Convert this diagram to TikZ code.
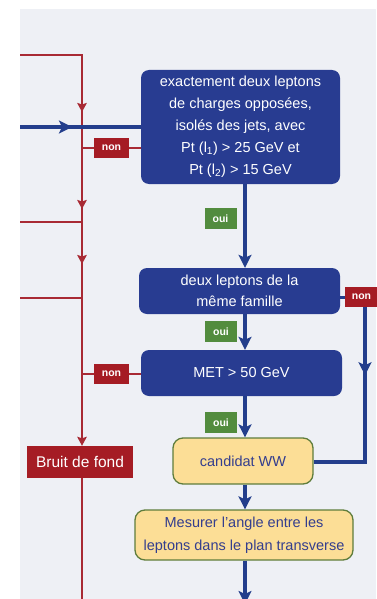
\documentclass[tikz,border=0pt]{standalone}
\usepackage{fontspec}
\setmainfont{Liberation Sans}
\usetikzlibrary{arrows.meta,decorations.markings}

\definecolor{bgpanel}{RGB}{238,240,245}
\definecolor{boxblue}{RGB}{40,60,145}
\definecolor{lineblue}{RGB}{35,62,140}
\definecolor{tagred}{RGB}{165,28,36}
\definecolor{linered}{RGB}{168,42,52}
\definecolor{taggreen}{RGB}{82,140,62}
\definecolor{candfill}{RGB}{252,222,150}
\definecolor{candedge}{RGB}{95,125,60}
\definecolor{candtext}{RGB}{52,62,142}

\pgfdeclarelayer{panel}
\pgfdeclarelayer{wires}
\pgfsetlayers{panel,wires,main}

\tikzset{
  bluebox/.style={fill=boxblue, rounded corners=8pt, text=white, align=center,
    inner sep=0pt, font=\fontsize{14.5}{22}\selectfont},
  yellowbox/.style={fill=candfill, draw=candedge, line width=1.3pt, rounded corners=10pt,
    text=candtext, align=center, inner sep=0pt, font=\fontsize{14.5}{23}\selectfont},
  tagbase/.style={text=white, inner sep=0pt, font=\bfseries\fontsize{10.5}{12}\selectfont},
  nontag/.style={tagbase, fill=tagred, minimum width=35pt, minimum height=20pt},
  ouitag/.style={tagbase, fill=taggreen, minimum width=32pt, minimum height=21pt},
  noisebox/.style={fill=tagred, text=white, inner sep=0pt, minimum width=106pt,
    minimum height=32pt, font=\fontsize{15.5}{18}\selectfont},
  bflow/.style={draw=lineblue, line width=4pt},
  rflow/.style={draw=linered, line width=2pt},
  btip/.style={-{Stealth[length=13pt,width=13pt,inset=3pt]}},
  rtip/.style={-{Stealth[length=9pt,width=9.5pt,inset=1.5pt]}},
  bmid/.style={postaction={decorate}, decoration={markings,
    mark=at position #1 with {\arrow{Stealth[length=13pt,width=13pt,inset=3pt]}}}},
  rmids/.style={postaction={decorate}, decoration={markings,
    mark=at position 119pt with {\arrow{Stealth[length=9pt,width=9.5pt,inset=1.5pt]}},
    mark=at position 216pt with {\arrow{Stealth[length=9pt,width=9.5pt,inset=1.5pt]}},
    mark=at position 271pt with {\arrow{Stealth[length=9pt,width=9.5pt,inset=1.5pt]}}}},
}

\begin{document}
\begin{tikzpicture}[x=1pt,y=-1pt]
  \useasboundingbox (0,0) rectangle (376,599);
  \begin{pgfonlayer}{panel}
    \fill[bgpanel] (20,9) rectangle (376,599);
  \end{pgfonlayer}

  % decision boxes
  \node[bluebox, minimum width=199pt, minimum height=114pt] (cut1) at (240.5,127)
    {exactement deux leptons\\de charges opposées,\\isolés des jets, avec\\
     Pt (l\textsubscript{1}) > 25 GeV et\\Pt (l\textsubscript{2}) > 15 GeV};
  \node[bluebox, minimum width=201pt, minimum height=46pt,
    font=\fontsize{14.5}{21}\selectfont] (cut2) at (239.5,291)
    {deux leptons de la\\même famille};
  \node[bluebox, minimum width=201pt, minimum height=46pt] (cut3) at (241.5,373)
    {MET > 50 GeV};
  \node[yellowbox, minimum width=140pt, minimum height=46pt] (cand) at (243,461)
    {candidat WW};
  \node[yellowbox, minimum width=218pt, minimum height=50pt] (angle) at (244,535)
    {Mesurer l'angle entre les\\leptons dans le plan transverse};
  \node[noisebox] (noise) at (80,462) {Bruit de fond};

  % answer tags
  \node[nontag] (non1) at (111.5,148) {non};
  \node[nontag] (non2) at (111.5,374) {non};
  \node[nontag, minimum width=33pt] (non3) at (361.5,297) {non};
  \node[ouitag] (oui1) at (220.5,218.5) {oui};
  \node[ouitag] (oui2) at (221,331.5) {oui};
  \node[ouitag] (oui3) at (221,422.5) {oui};

  % routing points
  \coordinate (entry) at (20,127);
  \coordinate (redstart) at (20,55);
  \coordinate (redcorner) at (82,55);
  \coordinate (redend) at (82,599);
  \coordinate (branchA) at (20,222);
  \coordinate (branchB) at (20,298);
  \coordinate (col) at (245,0);
  \coordinate (flowend) at (245,604);
  \coordinate (rcol) at (365,462);

  \begin{pgfonlayer}{wires}
    % rejected events
    \draw[rflow, rmids, rtip] (redstart) -- (redcorner) -- (noise.north -| redcorner);
    \draw[rflow] (branchA) -- (branchA -| redcorner);
    \draw[rflow] (branchB) -- (branchB -| redcorner);
    \draw[rflow] (non1 -| redcorner) -- (non1 -| cut1.west);
    \draw[rflow] (non2 -| redcorner) -- (non2 -| cut3.west);
    \draw[rflow] (noise.south -| redcorner) -- (redend);

    % selection chain
    \draw[bflow, bmid=52pt] (entry) -- (cut1.west |- entry);
    \draw[bflow, btip] (cut1.south -| col) -- (cut2.north -| col);
    \draw[bflow, btip] (cut2.south -| col) -- (cut3.north -| col);
    \draw[bflow, btip] (cut3.south -| col) -- (cand.north -| col);
    \draw[bflow, btip] (cand.south -| col) -- (angle.north -| col);
    \draw[bflow, btip] (angle.south -| col) -- (flowend);

    % different-flavour branch
    \draw[draw=lineblue, line width=3pt] (cut2.east |- non3) -- (non3);
    \draw[bflow, bmid=68pt] (non3.south -| rcol) -- (rcol) -- (cand.east |- rcol);
  \end{pgfonlayer}
\end{tikzpicture}
\end{document}
